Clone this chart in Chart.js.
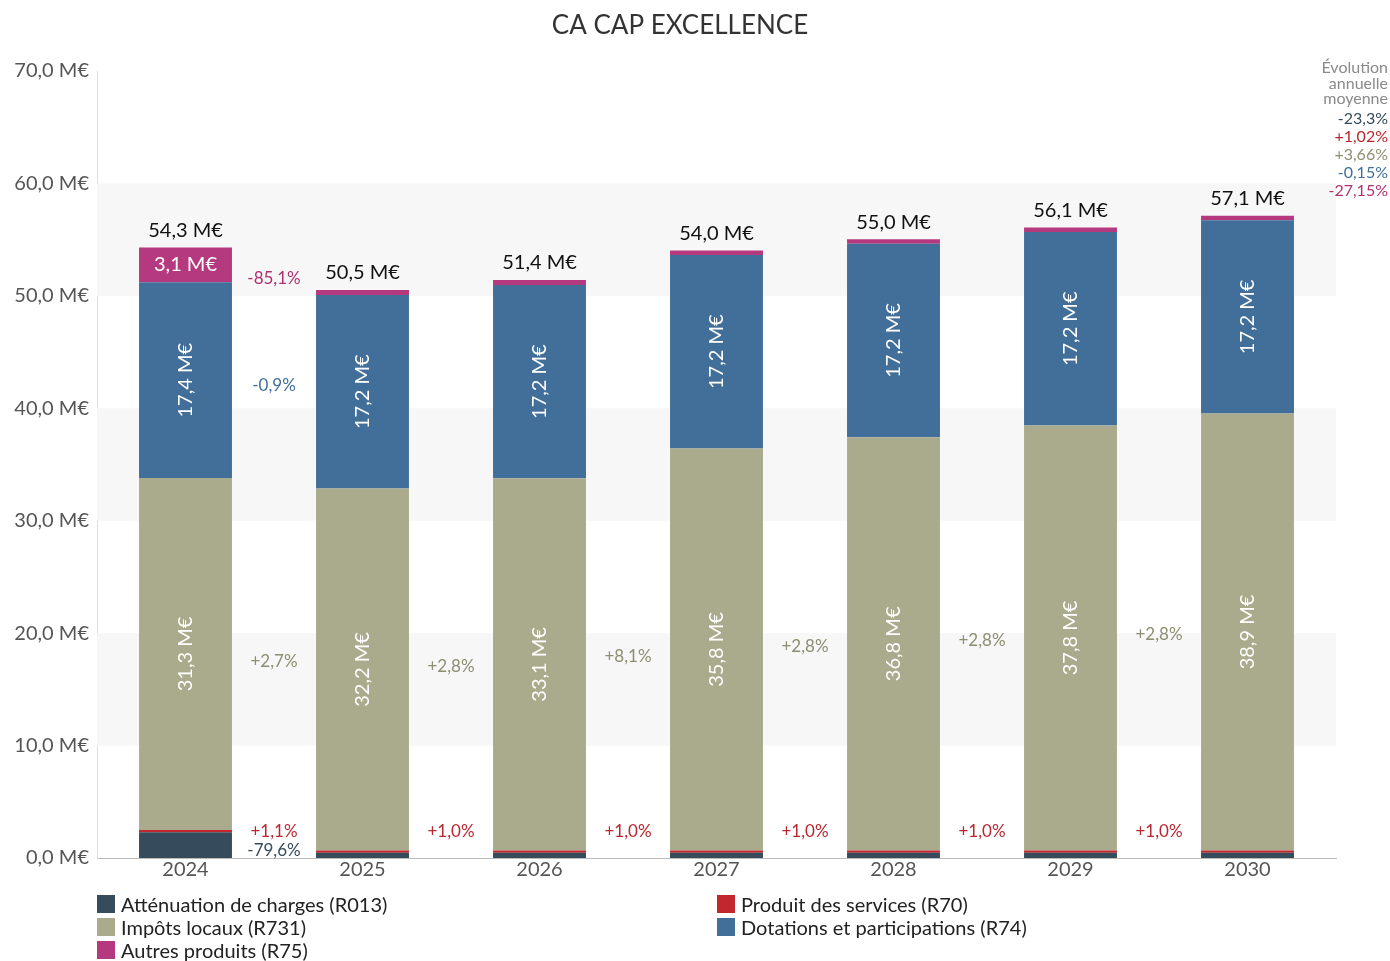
<!DOCTYPE html>
<html>
<head>
<meta charset="utf-8">
<script src="https://cdn.jsdelivr.net/npm/chart.js@4"></script>
<style>
  body { margin: 0; background: #fff; font-family: Lato, "Open Sans", sans-serif; }
  #wrap { position: relative; width: 1390px; height: 961px; }
  #legend { position: absolute; left: 97px; top: 893px; display: grid;
    grid-template-columns: 620px 620px; row-gap: 1px; font-size: 20px; color: #222; }
  #legend div { display: flex; align-items: center; height: 22px; }
  #legend span.box { width: 18px; height: 18px; margin-right: 6px; display: inline-block; }
</style>
</head>
<body>
<div id="wrap">
  <canvas id="chart" width="1390" height="961"></canvas>
  <div id="legend"></div>
</div>
<script>
const years = ['2024', '2025', '2026', '2027', '2028', '2029', '2030'];

// Montants en M€
const attenuation = [2.3, 0.47, 0.47, 0.47, 0.47, 0.47, 0.47];
const services = [0.2, 0.2, 0.2, 0.2, 0.2, 0.2, 0.2];
const impots = [31.3, 32.2, 33.1, 35.76, 36.76, 37.8, 38.86];
const dotations = [17.4, 17.2, 17.2, 17.2, 17.2, 17.2, 17.2];
const autres = [3.1, 0.45, 0.45, 0.4, 0.4, 0.4, 0.4];

// Evolutions d'une année à l'autre
const growthAttenuation = ['-79,6%', null, null, null, null, null];
const growthServices = ['+1,1%', '+1,0%', '+1,0%', '+1,0%', '+1,0%', '+1,0%'];
const growthImpots = ['+2,7%', '+2,8%', '+8,1%', '+2,8%', '+2,8%', '+2,8%'];
const growthDotations = ['-0,9%', null, null, null, null, null];
const growthAutres = ['-85,1%', null, null, null, null, null];

const avgGrowth = ['-23,3%', '+1,02%', '+3,66%', '-0,15%', '-27,15%'];
const yTicks = [0, 10, 20, 30, 40, 50, 60, 70];

const series = [
  { label: 'Atténuation de charges (R013)', data: attenuation, color: '#364b5b', text: '#364b5b', growth: growthAttenuation },
  { label: 'Produit des services (R70)', data: services, color: '#c1272d', text: '#b8282f', growth: growthServices },
  { label: 'Impôts locaux (R731)', data: impots, color: '#aaaa8c', text: '#8e8e72', growth: growthImpots },
  { label: 'Dotations et participations (R74)', data: dotations, color: '#426f99', text: '#426f99', growth: growthDotations },
  { label: 'Autres produits (R75)', data: autres, color: '#b5397e', text: '#b0306f', growth: growthAutres }
];

const FONT = 'Lato, "Open Sans", sans-serif';
const fmt = v => v.toFixed(1).replace('.', ',') + ' M€';

const legend = document.getElementById('legend');
series.forEach(s => {
  const d = document.createElement('div');
  d.innerHTML = '<span class="box" style="background:' + s.color + '"></span>' + s.label;
  legend.appendChild(d);
});

const bandsPlugin = {
  id: 'bands',
  beforeDatasetsDraw(chart) {
    const { ctx, chartArea, scales: { y } } = chart;
    ctx.save();
    ctx.fillStyle = '#f7f7f7';
    [[10, 20], [30, 40], [50, 60]].forEach(([a, b]) => {
      ctx.fillRect(chartArea.left, y.getPixelForValue(b), chartArea.right - chartArea.left,
        y.getPixelForValue(a) - y.getPixelForValue(b));
    });
    ctx.restore();
  }
};

const labelsPlugin = {
  id: 'labels',
  afterDatasetsDraw(chart) {
    const { ctx, scales: { y } } = chart;
    const zero = y.getPixelForValue(0);
    ctx.save();
    ctx.textBaseline = 'middle';
    ctx.textAlign = 'center';

    // valeurs dans les barres
    chart.data.datasets.forEach((ds, i) => {
      chart.getDatasetMeta(i).data.forEach((el, j) => {
        const h = el.base - el.y;
        const cy = (el.y + el.base) / 2;
        ctx.fillStyle = '#fff';
        ctx.font = '20px ' + FONT;
        if (h > 90) {
          ctx.save();
          ctx.translate(el.x, cy);
          ctx.rotate(-Math.PI / 2);
          ctx.fillText(fmt(ds.data[j]), 0, 0);
          ctx.restore();
        } else if (h > 28) {
          ctx.fillText(fmt(ds.data[j]), el.x, cy);
        }
      });
    });

    // totaux
    const last = chart.getDatasetMeta(chart.data.datasets.length - 1).data;
    ctx.fillStyle = '#111';
    ctx.font = '20px ' + FONT;
    years.forEach((yr, j) => {
      const total = series.reduce((s, se) => s + se.data[j], 0);
      ctx.fillText(fmt(total), last[j].x, last[j].y - 17);
    });

    // évolutions entre barres
    ctx.font = '17px ' + FONT;
    series.forEach((s, i) => {
      const els = chart.getDatasetMeta(i).data;
      s.growth.forEach((g, j) => {
        if (!g) return;
        const a = els[j], b = els[j + 1];
        let cy = ((a.y + a.base) / 2 + (b.y + b.base) / 2) / 2;
        if (i === 1) cy = Math.min(cy, zero - 26);
        ctx.fillStyle = s.text;
        ctx.fillText(g, (a.x + b.x) / 2, cy);
      });
    });

    // évolution annuelle moyenne
    ctx.textAlign = 'right';
    ctx.font = '16px ' + FONT;
    ctx.fillStyle = '#8a8a8a';
    ['Évolution', 'annuelle', 'moyenne'].forEach((t, k) => ctx.fillText(t, 1388, 68 + k * 15.5));
    avgGrowth.forEach((t, k) => {
      ctx.fillStyle = series[k].text;
      ctx.fillText(t, 1388, 119 + k * 18);
    });

    // titre
    ctx.textAlign = 'center';
    ctx.fillStyle = '#333';
    ctx.font = '26px ' + FONT;
    ctx.fillText('CA CAP EXCELLENCE', 680, 26);
    ctx.restore();
  }
};

new Chart(document.getElementById('chart'), {
  type: 'bar',
  data: {
    labels: years,
    datasets: series.map(s => ({
      label: s.label,
      data: s.data,
      backgroundColor: s.color,
      borderWidth: 0,
      barPercentage: 0.7,
      categoryPercentage: 0.75
    }))
  },
  options: {
    responsive: false,
    animation: false,
    layout: { padding: { top: 71, right: 54, bottom: 73, left: 0 } },
    plugins: { legend: { display: false }, tooltip: { enabled: false } },
    scales: {
      x: {
        stacked: true,
        grid: { display: false, drawTicks: false, tickLength: 0 },
        border: { color: '#bbb' },
        ticks: { color: '#555', font: { family: FONT, size: 20 }, padding: 0 },
        afterFit(scale) { scale.height = 30; }
      },
      y: {
        stacked: true,
        min: 0,
        max: 70,
        afterBuildTicks(scale) { scale.ticks = yTicks.map(v => ({ value: v })); },
        grid: { display: false, drawTicks: false, tickLength: 0 },
        border: { color: '#ddd' },
        ticks: {
          color: '#555',
          font: { family: FONT, size: 20 },
          padding: 8,
          callback: v => fmt(v)
        },
        afterFit(scale) { scale.width = 97; }
      }
    }
  },
  plugins: [bandsPlugin, labelsPlugin]
});
</script>
</body>
</html>
